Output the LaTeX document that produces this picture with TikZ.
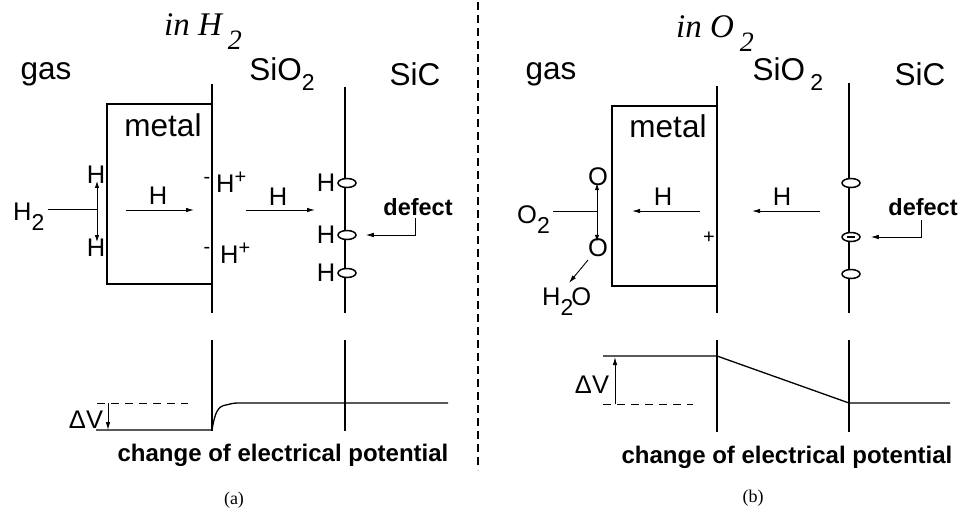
\documentclass[tikz,border=0pt]{standalone}
\usepackage{fontspec}
\setmainfont{Liberation Sans}
\newfontfamily\tms{Liberation Serif}
\usetikzlibrary{arrows.meta,shapes.geometric}
\newcommand{\subtwo}{\raisebox{-10pt}{\fontsize{23}{23}\selectfont 2}}
\newcommand{\ttlsub}{\hspace{6pt}\raisebox{-14pt}{\fontsize{28}{28}\selectfont 2}}
\newcommand{\supplus}{\raisebox{9pt}{\fontsize{20}{20}\selectfont +}}
\begin{document}
\begin{tikzpicture}[x=1pt,y=-1pt,
  big/.style={inner sep=0pt,font=\fontsize{31.5}{33}\selectfont},
  hl/.style={inner sep=0pt,font=\fontsize{25.5}{27}\selectfont},
  ttl/.style={inner sep=0pt,anchor=base west,font=\fontsize{33}{35}\selectfont\tms\itshape},
  boldtxt/.style={inner sep=0pt,font=\fontsize{24}{26}\selectfont\bfseries},
  figcap/.style={inner sep=0pt,font=\fontsize{18}{20}\selectfont\tms},
  iface/.style={line width=2pt},
  boxln/.style={line width=1.7pt},
  pot/.style={line width=1.3pt},
  arr/.style={line width=0.9pt,-{Latex[length=8pt,width=4.5pt]}},
  darr/.style={line width=0.9pt,{Latex[length=7pt,width=4.5pt]}-{Latex[length=7pt,width=4.5pt]}},
  thinln/.style={line width=0.9pt},
  defc/.style={draw,ellipse,fill=white,line width=1.5pt,minimum width=18pt,minimum height=9pt,inner sep=0pt},
  sepln/.style={line width=1.6pt,dash pattern=on 8pt off 5pt}
]
\useasboundingbox[fill=white] (0,0) rectangle (961,512);

% separator
\coordinate (sepT) at (478,2);
\coordinate (sepB) at (478,470);
\draw[sepln] (sepT) -- (sepB);

%%%%%%%%%%%%%%%% panel (a)
\node[ttl] (tA) at (164,35) {in H\ttlsub};
\node[big] (gasA) at (46,74) {gas};
\node[big] (sio2A) at (282,74) {SiO\subtwo};
\node[big] (sicA) at (415,74) {SiC};

\coordinate (mAt) at (212,84);  \coordinate (mAb) at (212,313);
\coordinate (mAt2) at (212,340); \coordinate (mAb2) at (212,431);
\coordinate (sAt) at (345,87);  \coordinate (sAb) at (345,313);
\coordinate (sAt2) at (345,340); \coordinate (sAb2) at (345,431);
\draw[iface] (mAt) -- (mAb);
\draw[iface] (mAt2) -- (mAb2);
\draw[iface] (sAt) -- (sAb);
\draw[iface] (sAt2) -- (sAb2);

\coordinate (bAtr) at (212,104); \coordinate (bAtl) at (107,104);
\coordinate (bAbl) at (107,284); \coordinate (bAbr) at (212,284);
\draw[boxln] (bAtr) -- (bAtl) -- (bAbl) -- (bAbr);
\node[big] (metA) at (163,125) {metal};

% gas side
\node[hl,anchor=base west] (h2A) at (13,220) {H\subtwo};
\node[hl] (hA1) at (96,175) {H};
\node[hl] (hA2) at (96,248) {H};
\coordinate (jA) at (97,209);
\draw[thinln] (h2A.east |- jA) ++(3,0) -- (jA);
\draw[darr] ([yshift=3pt]hA1.south -| jA) -- ([yshift=-3pt]hA2.north -| jA);

% arrows in metal / oxide
\coordinate (a1s) at (126,210); \coordinate (a1e) at (194,210);
\draw[arr] (a1s) -- (a1e);
\node[hl] (hm1) at (158,196) {H};
\coordinate (a2s) at (246,210); \coordinate (a2e) at (315,210);
\draw[arr] (a2s) -- (a2e);
\node[hl] (ho1) at (278,197) {H};

\node[inner sep=0pt,font=\fontsize{20}{20}\selectfont] (mi1) at (207,180) {-};
\node[hl,anchor=base west] (hp1) at (216,192) {H\supplus};
\node[inner sep=0pt,font=\fontsize{20}{20}\selectfont] (mi2) at (207,250) {-};
\node[hl,anchor=base west] (hp2) at (220,263) {H\supplus};

% defects
\node[defc] (eA1) at (347,183) {};
\node[defc] (eA2) at (347,235) {};
\node[defc] (eA3) at (347,273) {};
\node[hl] (hd1) at (326,183) {H};
\node[hl] (hd2) at (326,235) {H};
\node[hl] (hd3) at (326,273) {H};
\node[boldtxt,font=\fontsize{23.5}{25}\selectfont\bfseries] (defA) at (418,207) {defect};
\coordinate (dkA) at (415,218);
\draw[arr,line width=0.8pt,shorten >=9pt] (dkA) |- (eA2);

% potential (a)
\coordinate (pA0) at (96,430);
\coordinate (pA1) at (212,430);
\coordinate (pA2) at (238,403);
\coordinate (pA3) at (448,403);
\draw[pot] (pA0) -- (pA1) .. controls (215,412) and (218,406) .. (226,405) .. controls (230,404) and (233,403) .. (pA2) -- (pA3);
\coordinate (dA0) at (97,403); \coordinate (dA1) at (188,403);
\draw[thinln,dash pattern=on 8pt off 6pt] (dA0) -- (dA1);
\node[hl] (dvA) at (86,420) {ΔV};
\coordinate (vA0) at (108,403); \coordinate (vA1) at (108,430);
\draw[arr] (vA0) -- (vA1);
\node[boldtxt] (chA) at (283,455) {change of electrical potential};
\node[figcap] (capA) at (234,500) {(a)};

%%%%%%%%%%%%%%%% panel (b)
\node[ttl] (tB) at (676,37) {in O\ttlsub};
\node[big] (gasB) at (551,74) {gas};
\node[big] (sio2B) at (788,74) {SiO\,\subtwo};
\node[big] (sicB) at (920,74) {SiC};

\coordinate (mBt) at (717,86);  \coordinate (mBb) at (717,313);
\coordinate (mBt2) at (717,340); \coordinate (mBb2) at (717,432);
\coordinate (sBt) at (849,83);  \coordinate (sBb) at (849,313);
\coordinate (sBt2) at (849,340); \coordinate (sBb2) at (849,432);
\draw[iface] (mBt) -- (mBb);
\draw[iface] (mBt2) -- (mBb2);
\draw[iface] (sBt) -- (sBb);
\draw[iface] (sBt2) -- (sBb2);

\coordinate (bBtr) at (717,106); \coordinate (bBtl) at (612,106);
\coordinate (bBbl) at (612,286); \coordinate (bBbr) at (717,286);
\draw[boxln] (bBtr) -- (bBtl) -- (bBbl) -- (bBbr);
\node[big] (metB) at (668,126) {metal};

% gas side (b)
\node[hl,anchor=base west] (o2B) at (517,223) {O\subtwo};
\node[hl] (oB1) at (598,177) {O};
\node[hl] (oB2) at (598,248) {O};
\coordinate (jB) at (597,211);
\draw[thinln] (o2B.east |- jB) ++(3,0) -- (jB);
\draw[darr] ([yshift=3pt]oB1.south -| jB) -- ([yshift=-3pt]oB2.north -| jB);
\node[hl,anchor=base west] (h2oB) at (542,305) {H\subtwo\hspace{-2pt}O};
\coordinate (wB0) at (588,260); \coordinate (wB1) at (569,283);
\draw[arr] (wB0) -- (wB1);

\coordinate (b1s) at (700,211); \coordinate (b1e) at (632,211);
\draw[arr] (b1s) -- (b1e);
\node[hl] (hm2) at (663,197) {H};
\coordinate (b2s) at (820,211); \coordinate (b2e) at (752,211);
\draw[arr] (b2s) -- (b2e);
\node[hl] (ho2) at (782,197) {H};
\node[inner sep=0pt,font=\fontsize{20}{20}\selectfont] (plB) at (709,238) {+};

\node[defc] (eB1) at (851,183) {};
\node[defc] (eB2) at (851,237) {};
\node[defc] (eB3) at (851,274) {};
\coordinate (mnl) at (847,237); \coordinate (mnr) at (855,237);
\draw[line width=1.2pt] (mnl) -- (mnr);
\node[boldtxt,font=\fontsize{23.5}{25}\selectfont\bfseries] (defB) at (923,207) {defect};
\coordinate (dkB) at (921,220);
\draw[arr,line width=0.8pt,shorten >=10pt] (dkB) |- (eB2);

% potential (b)
\coordinate (pB0) at (603,356);
\coordinate (pB1) at (717,356);
\coordinate (pB2) at (849,403);
\coordinate (pB3) at (950,403);
\draw[pot] (pB0) -- (pB1) -- (pB2) -- (pB3);
\coordinate (dB0) at (603,404); \coordinate (dB1) at (693,404);
\draw[thinln,dash pattern=on 8pt off 6pt] (dB0) -- (dB1);
\node[hl] (dvB) at (592,385) {ΔV};
\coordinate (vB0) at (615,404); \coordinate (vB1) at (615,357);
\draw[arr] (vB0) -- (vB1);
\node[boldtxt] (chB) at (787,457) {change of electrical potential};
\node[figcap] (capB) at (753,498) {(b)};
\end{tikzpicture}
\end{document}
